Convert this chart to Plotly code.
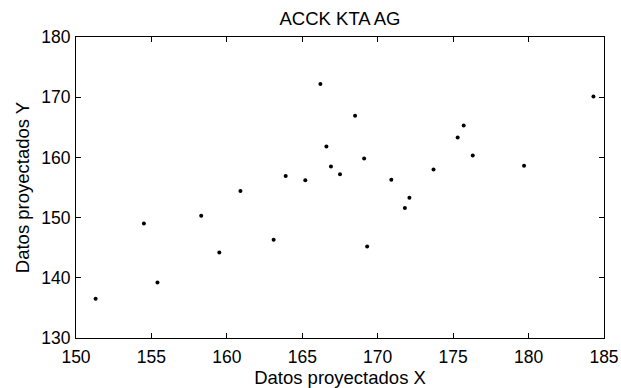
import plotly.graph_objects as go

# Projected data points
x_proj = [151.3, 154.5, 155.4, 158.3, 159.5, 160.9, 163.1, 163.9, 165.2, 166.2,
          166.6, 166.9, 167.5, 168.5, 169.1, 169.3, 170.9, 171.8, 172.1, 173.7,
          175.3, 175.7, 176.3, 179.7, 184.3]
y_proj = [136.5, 149.0, 139.2, 150.3, 144.2, 154.4, 146.3, 156.9, 156.2, 172.2,
          161.8, 158.5, 157.2, 166.9, 159.8, 145.2, 156.3, 151.6, 153.3, 158.0,
          163.3, 165.3, 160.3, 158.6, 170.1]

x_ticks = [150, 155, 160, 165, 170, 175, 180, 185]
y_ticks = [130, 140, 150, 160, 170, 180]

FONT = "Liberation Sans, Arial, Helvetica, sans-serif"

fig = go.Figure(
    go.Scatter(
        x=x_proj, y=y_proj, mode="markers",
        marker=dict(color="black", size=4),
        hoverinfo="x+y",
    )
)

axis_common = dict(
    showgrid=False, zeroline=False, automargin=False,
    showline=True, linecolor="black", linewidth=1, mirror="ticks",
    ticks="inside", ticklen=5, tickcolor="black", tickwidth=1,
    tickfont=dict(family=FONT, size=17.5, color="black"),
)

fig.update_layout(
    width=621, height=388,
    margin=dict(l=76, r=17, t=37, b=50),
    paper_bgcolor="white", plot_bgcolor="white",
    showlegend=False,
    title=dict(
        text="ACCK KTA AG",
        font=dict(family=FONT, size=18.5, color="black"),
        x=340 / 621, xanchor="center", xref="container",
        y=1 - 19 / 388, yanchor="middle", yref="container",
    ),
    xaxis=dict(
        range=[150, 185], tickvals=x_ticks, ticklabelstandoff=3,
        title=dict(text="Datos proyectados X", standoff=1,
                   font=dict(family=FONT, size=18.5, color="black")),
        **axis_common,
    ),
    yaxis=dict(
        range=[130, 180], tickvals=y_ticks, ticklabelstandoff=1,
        title=dict(text="Datos proyectados Y", standoff=6,
                   font=dict(family=FONT, size=18.5, color="black")),
        **axis_common,
    ),
)

fig.write_html("out.html")
